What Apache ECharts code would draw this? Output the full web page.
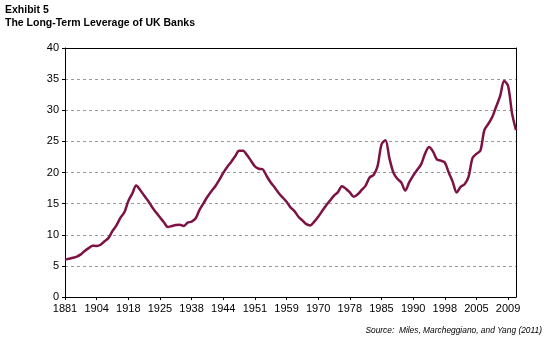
<!DOCTYPE html>
<html>
<head>
<meta charset="utf-8">
<script src="https://cdn.jsdelivr.net/npm/echarts@6/dist/echarts.min.js"></script>
<style>
html,body{margin:0;padding:0;background:#fff;}
#c{width:550px;height:350px;}
</style>
</head>
<body>
<div id="c"></div>
<script>
// Tick labels shown on the x axis (every 8th observation)
var tickLabels = ['1881','1904','1918','1925','1938','1944','1951','1959','1970','1978','1985','1990','1998','2005','2009'];
var labelEvery = 8;

// Leverage ratio (assets / equity)
var leverage = [
  6.0, 6.15, 6.3, 6.5, 6.85, 7.4, 7.85, 8.25, 8.2, 8.4,
  8.95, 9.5, 10.6, 11.5, 12.7, 13.6, 15.4, 16.6, 17.9, 17.2,
  16.3, 15.45, 14.45, 13.6, 12.8, 12.0, 11.25, 11.4, 11.55, 11.6,
  11.4, 11.95, 12.1, 12.6, 14.0, 15.05, 16.1, 17.0, 17.8, 18.8,
  19.95, 20.9, 21.7, 22.6, 23.5, 23.5, 22.8, 21.9, 21.0, 20.6,
  20.5, 19.4, 18.4, 17.6, 16.7, 16.0, 15.3, 14.4, 13.8, 12.9,
  12.3, 11.7, 11.5, 12.1, 12.9, 13.8, 14.7, 15.5, 16.3, 16.85,
  17.8, 17.4, 16.8, 16.1, 16.5, 17.2, 17.9, 19.2, 19.6, 21.0,
  24.5, 25.2, 22.3, 20.0, 19.0, 18.4, 17.1, 18.4, 19.5, 20.4,
  21.3, 23.0, 24.1, 23.4, 22.1, 21.9, 21.6, 20.0, 18.5, 16.8,
  17.7, 18.1, 19.3, 22.3, 23.0, 23.5, 26.8, 27.8, 28.9, 30.6,
  32.3, 34.7, 33.9, 29.5, 26.8
];

var yTicks = [0, 5, 10, 15, 20, 25, 30, 35, 40];

var titleLine1 = 'Exhibit 5';
var titleLine2 = 'The Long-Term Leverage of UK Banks';
var sourceText = 'Source:  Miles, Marcheggiano, and Yang (2011)';

// Category names built from tick labels
var categories = leverage.map(function (v, i) {
  return (i % labelEvery === 0 && tickLabels[i / labelEvery]) ? tickLabels[i / labelEvery] : ('p' + i);
});

var chart = echarts.init(document.getElementById('c'), null, {renderer: 'canvas'});
var FONT = '"Liberation Sans", Arial, sans-serif';

chart.setOption({
  animation: false,
  backgroundColor: '#ffffff',
  title: {
    text: titleLine1 + '\n' + titleLine2,
    left: 5,
    top: 4,
    padding: 0,
    textStyle: {fontFamily: FONT, fontSize: 10.5, fontWeight: 'bold', color: '#000', lineHeight: 12.5}
  },
  graphic: [{
    type: 'text',
    right: 8,
    top: 327,
    style: {text: sourceText, font: 'italic 8.4px "Liberation Sans", Arial, sans-serif', fill: '#000'}
  }],
  grid: {left: 65, right: 34, top: 48, bottom: 53, containLabel: false},
  xAxis: [{
    type: 'category',
    data: categories,
    boundaryGap: false,
    axisLine: {show: true, onZero: false, lineStyle: {color: '#000', width: 1}},
    axisTick: {show: true, interval: labelEvery - 1, length: 3, lineStyle: {color: '#000'}},
    axisLabel: {
      interval: labelEvery - 1,
      fontFamily: FONT, fontSize: 11, color: '#000', margin: 6,
      formatter: function (v) { return v.charAt(0) === 'p' ? '' : v; }
    },
    splitLine: {show: false}
  }, {
    type: 'category',
    data: categories,
    position: 'top',
    boundaryGap: false,
    axisLine: {show: true, onZero: false, lineStyle: {color: '#000', width: 1}},
    axisTick: {show: false},
    axisLabel: {show: false},
    splitLine: {show: false}
  }],
  yAxis: [{
    type: 'value',
    min: yTicks[0],
    max: yTicks[yTicks.length - 1],
    interval: 5,
    axisLine: {show: true, lineStyle: {color: '#000', width: 1}},
    axisTick: {show: true, length: 3, lineStyle: {color: '#000'}},
    axisLabel: {fontFamily: FONT, fontSize: 11, color: '#000', margin: 6},
    splitLine: {show: true, showMinLine: false, showMaxLine: false, lineStyle: {color: '#9a9a9a', type: [3, 3], width: 1}}
  }, {
    type: 'value',
    position: 'right',
    min: yTicks[0],
    max: yTicks[yTicks.length - 1],
    interval: 5,
    axisLine: {show: true, lineStyle: {color: '#000', width: 1}},
    axisTick: {show: false},
    axisLabel: {show: false},
    splitLine: {show: false}
  }],
  series: [{
    type: 'line',
    data: leverage,
    xAxisIndex: 0,
    yAxisIndex: 0,
    smooth: 0.3,
    symbol: 'none',
    lineStyle: {color: '#7d1244', width: 2.5},
    itemStyle: {color: '#7d1244'}
  }]
});
</script>
</body>
</html>
